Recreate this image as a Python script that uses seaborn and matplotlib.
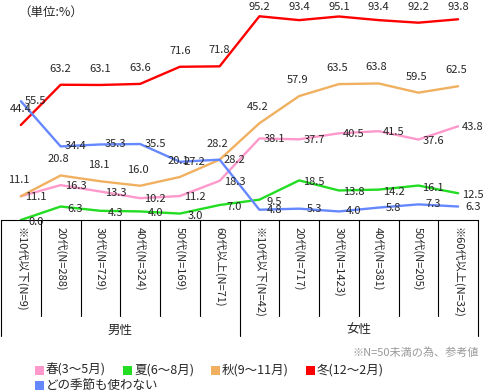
import numpy as np
import pandas as pd
import seaborn as sns
import matplotlib.pyplot as plt
import matplotlib.transforms as mtransforms
from matplotlib.lines import Line2D
from matplotlib.patches import Rectangle
plt.switch_backend('agg')

ages = ['※10代以下(N=9)', '20代(N=288)', '30代(N=729)', '40代(N=324)',
        '50代(N=169)', '60代以上(N=71)',
        '※10代以下(N=42)', '20代(N=717)', '30代(N=1423)', '40代(N=381)',
        '50代(N=205)', '※60代以上(N=32)']
groups = ['男性', '女性']
seasons = ['春(3～5月)', '夏(6～8月)', '秋(9～11月)', '冬(12～2月)', 'どの季節も使わない']

spring = [11.1, 16.3, 13.3, 10.2, 11.2, 18.3, 38.1, 37.7, 40.5, 41.5, 37.6, 43.8]
summer = [0.0, 6.3, 4.3, 4.0, 3.0, 7.0, 9.5, 18.5, 13.8, 14.2, 16.1, 12.5]
autumn = [11.1, 20.8, 18.1, 16.0, 20.1, 28.2, 45.2, 57.9, 63.5, 63.8, 59.5, 62.5]
winter = [44.4, 63.2, 63.1, 63.6, 71.6, 71.8, 95.2, 93.4, 95.1, 93.4, 92.2, 93.8]
no_use = [55.5, 34.4, 35.3, 35.5, 27.2, 28.2, 4.8, 5.3, 4.0, 5.8, 7.3, 6.3]

colors = ['#ff99cc', '#22dd22', '#f0b060', '#ff0000', '#6688ff']
# label offsets in pixels (dx, dy)
offsets = [(15, -1), (15, -2), (-2, 16), (0, 16), (15, 0)]

sns.set_style('white')
plt.rcParams['font.family'] = ['Noto Sans CJK JP', 'DejaVu Sans']

series = [spring, summer, autumn, winter, no_use]
df = pd.DataFrame({
    'age': ages * len(seasons),
    'season': np.repeat(seasons, len(ages)),
    'value': np.concatenate(series),
})

W, H = 484, 391
fig = plt.figure(figsize=(W / 100, H / 100), dpi=100)
ax = fig.add_axes([1 / W, 1 - 220 / H, 477 / W, 214 / H])
sns.lineplot(data=df, x='age', y='value', hue='season', hue_order=seasons,
             palette=colors, lw=1.7, sort=False, legend=False, ax=ax)
ax.set_xlim(-0.5, 11.5)
ax.set_ylim(0, 100)
ax.set_yticks([])
ax.set_xlabel('')
ax.set_ylabel('')
sns.despine(ax=ax, left=True, top=True, right=True)
ax.spines['bottom'].set_color('black')
ax.spines['bottom'].set_linewidth(0.8)
ax.set_xticks(range(len(ages)))
ax.set_xticklabels(ages, rotation=-90, fontsize=8, va='top', ha='center')
ax.tick_params(axis='x', length=0, pad=5)

# data labels
for vals, (dx, dy) in zip(series, offsets):
    for i, v in enumerate(vals):
        py = ax.transData.transform((i, v))[1]
        ddy = min(dy, (H - 7) - py) if dy > 0 else dy
        ax.annotate('%.1f' % v, (i, v), xytext=(dx, ddy), textcoords='offset pixels',
                    ha='center', va='center', fontsize=8, annotation_clip=False)

# table lines below the chart
trans = mtransforms.blended_transform_factory(ax.transData, fig.transFigure)
for k in range(len(ages) + 1):
    x = k - 0.5
    long_line = k % 6 == 0
    y1 = 1 - (336 if long_line else 316) / H
    fig.add_artist(Line2D([x, x], [1 - 220 / H, y1], transform=trans,
                          color='black', lw=0.8))
for g, name in enumerate(groups):
    fig.text(2.5 + 6 * g, 1 - 330 / H, name, transform=trans, ha='center',
             va='center', fontsize=9)

fig.text(18 / W, 1 - 12 / H, '（単位:%）', fontsize=9, va='center')
fig.text(479 / W, 1 - 353 / H, '※N=50未満の為、参考値', ha='right', va='center',
         color='#999999', fontsize=8)

# legend
leg_pos = [(35, 370), (123, 370), (211, 370), (306, 370), (35, 385.5)]
for (lx, ly), name, c in zip(leg_pos, seasons, colors):
    fig.add_artist(Rectangle((lx / W, 1 - (ly + 4.5) / H), 9 / W, 9 / H,
                             transform=fig.transFigure, color=c, lw=0))
    fig.text((lx + 11) / W, 1 - ly / H, name, fontsize=9, va='center')

fig.savefig('out.png', dpi=100)
